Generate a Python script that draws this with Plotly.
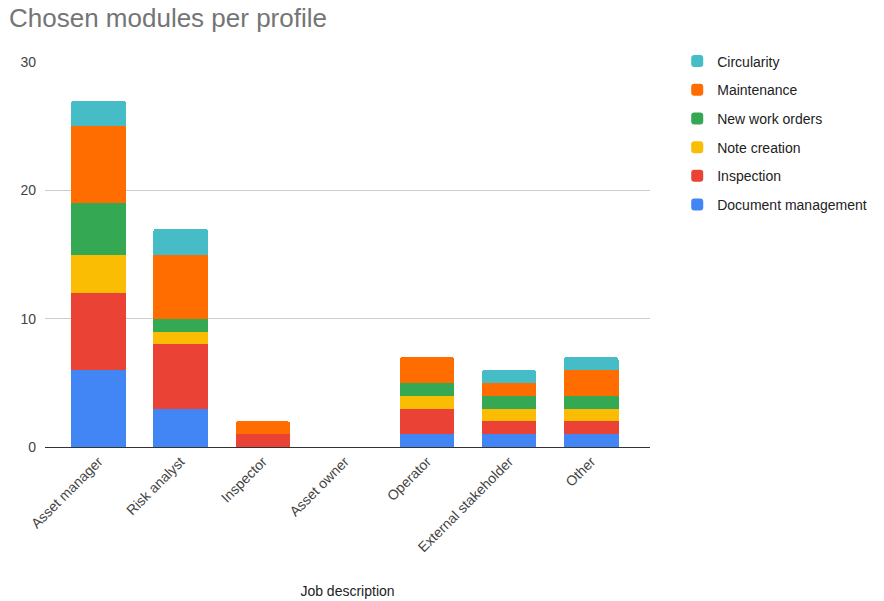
import plotly.graph_objects as go

# Job profiles on the x axis
profiles = ["Asset manager", "Risk analyst", "Inspector", "Asset owner",
            "Operator", "External stakeholder", "Other"]

# Number of times each module was chosen, per profile (stacked bottom to top)
document_management = [6, 3, 0, 0, 1, 1, 1]
inspection = [6, 5, 1, 0, 2, 1, 1]
note_creation = [3, 1, 0, 0, 1, 1, 1]
new_work_orders = [4, 1, 0, 0, 1, 1, 1]
maintenance = [6, 5, 1, 0, 2, 1, 2]
circularity = [2, 2, 0, 0, 0, 1, 1]

series = [
    ("Document management", document_management, "#4285F4"),
    ("Inspection", inspection, "#EA4335"),
    ("Note creation", note_creation, "#FBBC04"),
    ("New work orders", new_work_orders, "#34A853"),
    ("Maintenance", maintenance, "#FF6D01"),
    ("Circularity", circularity, "#46BDC6"),
]

FONT = "Arial, 'Liberation Sans', sans-serif"

fig = go.Figure()
for i, (name, values, color) in enumerate(series):
    fig.add_trace(go.Bar(
        name=name, x=profiles, y=values,
        marker=dict(color=color, line=dict(width=0)),
        legendgroup=name,
        legendrank=1000 - i,  # top of the stack listed first
    ))

fig.update_layout(
    barmode="stack",
    bargap=0.336,
    barcornerradius=3,
    width=884, height=601,
    margin=dict(l=45, r=229, t=62, b=154),
    paper_bgcolor="white",
    plot_bgcolor="white",
    font=dict(family=FONT, color="#222222"),
    title=dict(
        text="Chosen modules per profile",
        x=9 / 884, xanchor="left", xref="container",
        y=0.97, yanchor="middle", yref="container",
        font=dict(family=FONT, size=26, color="#757575"),
    ),
    showlegend=True,
    legend=dict(
        traceorder="grouped",
        tracegroupgap=7.5,
        x=1.045, xanchor="left",
        y=1.043, yanchor="top",
        font=dict(family=FONT, size=14, color="#222222"),
        bgcolor="rgba(0,0,0,0)",
        itemclick=False,
    ),
    xaxis=dict(
        range=[-0.652, 6.715],
        automargin=False,
        tickangle=-45,
        tickfont=dict(family=FONT, size=14, color="#444444"),
        showgrid=False,
        showline=True, linecolor="#333333", linewidth=1,
        ticks="",
        title=dict(text="Job description", font=dict(family=FONT, size=14, color="#222222"),
                   standoff=32),
        fixedrange=True,
    ),
    yaxis=dict(
        range=[0, 30],
        automargin=False,
        tickvals=[0, 10, 20, 30],
        tickfont=dict(family=FONT, size=14, color="#444444"),
        showgrid=True, gridcolor="#cccccc", gridwidth=1,
        zeroline=True, zerolinecolor="#333333", zerolinewidth=1,
        ticks="",
        ticklabelstandoff=8,
        fixedrange=True,
    ),
)

fig.write_html("out.html")
